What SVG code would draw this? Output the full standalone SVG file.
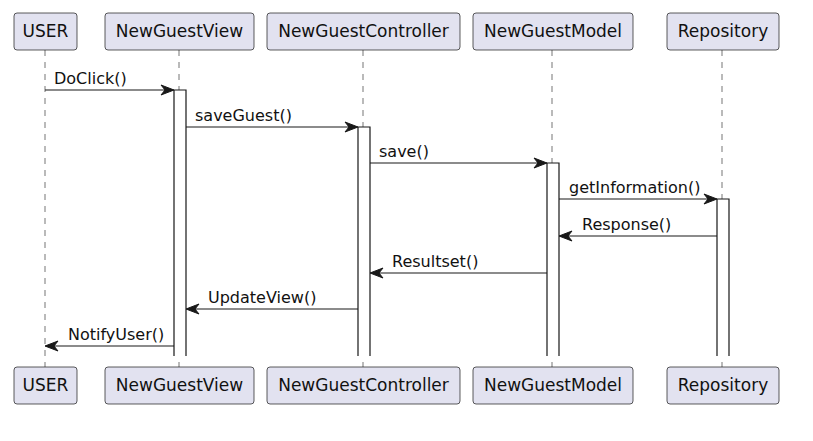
<svg xmlns="http://www.w3.org/2000/svg" width="813" height="441" viewBox="0 0 813 441">
<style>
.box{fill:#E2E2F0;stroke:#181818;stroke-width:0.7}
.pt{font-family:"DejaVu Sans","Liberation Sans",sans-serif;font-size:17px;fill:#111;text-anchor:middle}
.life{stroke:#181818;stroke-width:0.6;stroke-dasharray:6,6;fill:none}
.act{fill:#FFFFFF;stroke:#181818;stroke-width:1.2}
.msg{stroke:#181818;stroke-width:1.2;fill:none}
.ml{font-family:"DejaVu Sans","Liberation Sans",sans-serif;font-size:16px;fill:#111}
.ah{fill:#181818;stroke:#181818;stroke-width:1}
</style>
<rect width="813" height="441" fill="#FFFFFF"/>
<g id="lifelines">
<line class="life" x1="45" y1="50" x2="45" y2="367"/>
<line class="life" x1="179" y1="50" x2="179" y2="367"/>
<line class="life" x1="363" y1="50" x2="363" y2="367"/>
<line class="life" x1="552" y1="50" x2="552" y2="367"/>
<line class="life" x1="722" y1="50" x2="722" y2="367"/>
</g>
<g id="USER">
<rect class="box" x="14" y="13" width="63" height="37" rx="3"/>
<text class="pt" x="45.5" y="37">USER</text>
<rect class="box" x="14" y="367" width="63" height="37" rx="3"/>
<text class="pt" x="45.5" y="391">USER</text>
</g>
<g id="NewGuestView">
<rect class="box" x="105" y="13" width="149" height="37" rx="3"/>
<text class="pt" x="179.5" y="37">NewGuestView</text>
<rect class="box" x="105" y="367" width="149" height="37" rx="3"/>
<text class="pt" x="179.5" y="391">NewGuestView</text>
<path class="act" d="M174,356 V90 H186 V356"/>
</g>
<g id="NewGuestController">
<rect class="box" x="267" y="13" width="193" height="37" rx="3"/>
<text class="pt" x="363.5" y="37">NewGuestController</text>
<rect class="box" x="267" y="367" width="193" height="37" rx="3"/>
<text class="pt" x="363.5" y="391">NewGuestController</text>
<path class="act" d="M358,356 V127 H370 V356"/>
</g>
<g id="NewGuestModel">
<rect class="box" x="473" y="13" width="160" height="37" rx="3"/>
<text class="pt" x="553" y="37">NewGuestModel</text>
<rect class="box" x="473" y="367" width="160" height="37" rx="3"/>
<text class="pt" x="553" y="391">NewGuestModel</text>
<path class="act" d="M547,356 V163 H559 V356"/>
</g>
<g id="Repository">
<rect class="box" x="667" y="13" width="112" height="37" rx="3"/>
<text class="pt" x="723" y="37">Repository</text>
<rect class="box" x="667" y="367" width="112" height="37" rx="3"/>
<text class="pt" x="723" y="391">Repository</text>
<path class="act" d="M717,356 V199 H729 V356"/>
</g>
<g id="connectors">
<line class="msg" x1="45" y1="90" x2="172" y2="90"/>
<polygon class="ah" points="174,90 161,85 165,90 161,95"/>
<text class="ml" x="54" y="84">DoClick()</text>

<line class="msg" x1="186" y1="127" x2="356" y2="127"/>
<polygon class="ah" points="358,127 345,122 349,127 345,132"/>
<text class="ml" x="195" y="121">saveGuest()</text>

<line class="msg" x1="370" y1="163" x2="545" y2="163"/>
<polygon class="ah" points="547,163 534,158 538,163 534,168"/>
<text class="ml" x="379" y="157">save()</text>

<line class="msg" x1="559" y1="199" x2="715" y2="199"/>
<polygon class="ah" points="717,199 704,194 708,199 704,204"/>
<text class="ml" x="569" y="193">getInformation()</text>

<line class="msg" x1="717" y1="236" x2="561" y2="236"/>
<polygon class="ah" points="559,236 572,231 568,236 572,241"/>
<text class="ml" x="582" y="230">Response()</text>

<line class="msg" x1="547" y1="273" x2="372" y2="273"/>
<polygon class="ah" points="370,273 383,268 379,273 383,278"/>
<text class="ml" x="392" y="267">Resultset()</text>

<line class="msg" x1="358" y1="309" x2="188" y2="309"/>
<polygon class="ah" points="186,309 199,304 195,309 199,314"/>
<text class="ml" x="208" y="303">UpdateView()</text>

<line class="msg" x1="174" y1="346" x2="47" y2="346"/>
<polygon class="ah" points="45,346 58,341 54,346 58,351"/>
<text class="ml" x="68" y="340">NotifyUser()</text>
</g>
</svg>
